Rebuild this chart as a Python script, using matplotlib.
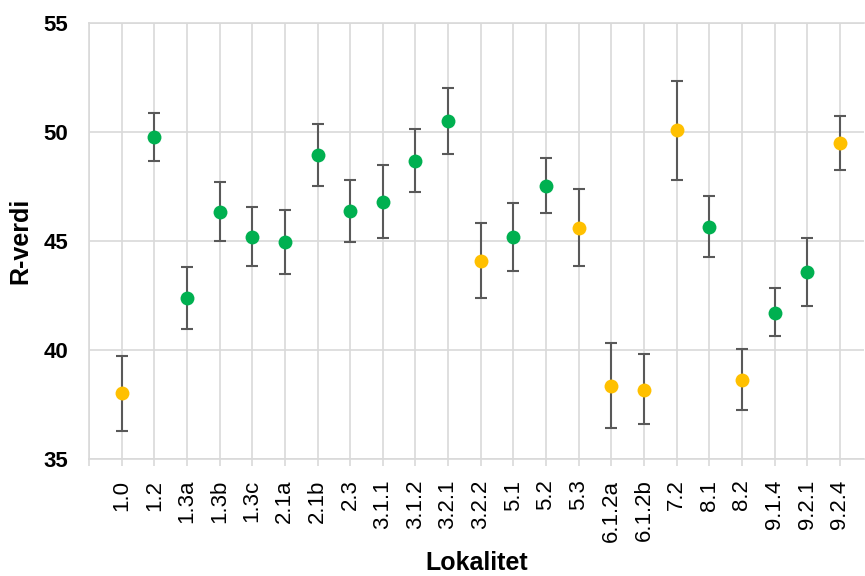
import matplotlib
matplotlib.use("Agg")
import matplotlib.pyplot as plt
import numpy as np

categories = ["1.0", "1.2", "1.3a", "1.3b", "1.3c", "2.1a", "2.1b", "2.3", "3.1.1", "3.1.2",
              "3.2.1", "3.2.2", "5.1", "5.2", "5.3", "6.1.2a", "6.1.2b", "7.2", "8.1", "8.2",
              "9.1.4", "9.2.1", "9.2.4"]
r_values = [38.0, 49.8, 42.37, 46.35, 45.2, 44.95, 48.95, 46.38, 46.78, 48.69,
            50.5, 44.1, 45.18, 47.53, 45.6, 38.32, 38.17, 50.08, 45.64, 38.63,
            41.71, 43.56, 49.49]
err_high = [39.73, 50.88, 43.82, 47.71, 46.55, 46.42, 50.36, 47.82, 48.48, 50.14,
            52.01, 45.84, 46.76, 48.83, 47.39, 40.31, 39.79, 52.36, 47.07, 40.05,
            42.83, 45.15, 50.73]
err_low = [36.29, 48.69, 40.94, 45.01, 43.87, 43.47, 47.53, 44.95, 45.14, 47.26,
           49.0, 42.40, 43.64, 46.27, 43.87, 36.4, 36.59, 47.82, 44.27, 37.25,
           40.65, 42.03, 48.28]
groups = ["y", "g", "g", "g", "g", "g", "g", "g", "g", "g",
          "g", "y", "g", "g", "y", "y", "y", "y", "g", "y",
          "g", "g", "y"]
y_ticks = [35, 40, 45, 50, 55]

colors = {"g": "#00B050", "y": "#FFC000"}
grid_c = "#D9D9D9"
font = "Liberation Sans"

fig = plt.figure(figsize=(8.65, 5.76), dpi=100)
ax = fig.add_axes([89/865, 1 - 458.7/576, (864 - 89)/865, (458.7 - 23.3)/576])

x = np.arange(1, len(categories) + 1)
vals = np.array(r_values)
lo = vals - np.array(err_low)
hi = np.array(err_high) - vals

ax.errorbar(x, vals, yerr=[lo, hi], fmt="none", ecolor="#595959", elinewidth=1.5,
            capsize=4.5, capthick=1.5, zorder=3)
for xi, v, g in zip(x, vals, groups):
    ax.plot(xi, v, "o", color=colors[g], markersize=10, markeredgewidth=0, zorder=4)

ax.set_xlim(0, 23.74)
ax.set_ylim(35, 55)
ax.set_yticks(y_ticks)
ax.set_xticks(np.arange(0, 24))
ax.set_xticklabels([""] + categories, rotation=90, fontsize=16, family=font)

for t in ax.get_yticklabels():
    t.set_fontfamily(font)
    t.set_fontweight("bold")
    t.set_fontsize(16)

ax.grid(True, color=grid_c, linewidth=1.2, zorder=0)
ax.set_axisbelow(True)
ax.spines["right"].set_visible(False)
for s in ["left", "bottom", "top"]:
    ax.spines[s].set_color(grid_c)
    ax.spines[s].set_linewidth(1.2)
ax.tick_params(axis="y", length=0, pad=15)
ax.tick_params(axis="x", length=5, color=grid_c, width=1.2, pad=10)

ax.set_ylabel("R-verdi", fontsize=18, fontweight="bold", family=font, labelpad=8)
ax.set_xlabel("Lokalitet", fontsize=18, fontweight="bold", family=font, labelpad=7)

fig.savefig("out.png", dpi=100)
